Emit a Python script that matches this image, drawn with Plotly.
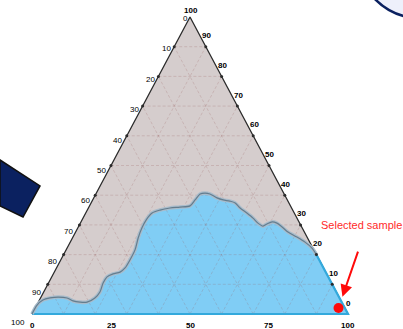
import plotly.graph_objects as go

W, H = 403, 329

# Ternary compositions in percent: a = top corner, b = bottom-left corner,
# c = bottom-right corner (b = 100 - a - c).
# Phase boundary separating the lower (blue) field from the upper (grey) one.
boundary_a = [0.0, 3.0, 4.7, 5.4, 5.7, 5.4, 4.4, 4.0, 4.0, 5.4, 7.4, 10.4, 12.5,
              13.5, 14.1, 15.5, 18.2, 21.6, 25.6, 29.0, 31.7, 34.0, 35.0, 35.7,
              36.0, 36.4, 38.4, 40.4, 40.7, 40.4, 39.1, 38.4, 38.0, 37.4, 35.7,
              34.0, 32.3, 30.6, 29.6, 30.3, 31.0, 30.6, 29.3, 27.6, 25.9, 24.2,
              22.2, 19.8]
boundary_c = [0.0, 0.1, 1.1, 3.0, 5.4, 8.4, 10.8, 13.2, 15.4, 17.2, 17.8, 17.3,
              17.5, 18.9, 20.8, 21.7, 21.9, 21.8, 20.8, 20.3, 20.3, 21.0, 23.0,
              25.8, 28.8, 31.8, 32.4, 33.0, 34.4, 36.1, 39.0, 41.3, 43.6, 45.6,
              48.0, 51.0, 53.8, 56.2, 58.3, 59.2, 60.5, 62.2, 64.5, 67.2, 70.9,
              74.3, 77.5, 80.2]

# Selected sample composition
sample_a = [2.0]
sample_c = [96.0]

# Axis tick values
left_ticks = [0, 10, 20, 30, 40, 50, 60, 70, 80, 90, 100]    # b, along left edge
right_ticks = [0, 10, 20, 30, 40, 50, 60, 70, 80, 90, 100]   # a, along right edge
bottom_ticks = [0, 25, 50, 75, 100]                           # c, along base
grid_levels = [10, 20, 30, 40, 50, 60, 70, 80, 90]


def proj(a, c):
    """Ternary (a, c) in percent -> plane coordinates of the triangle."""
    return c + a / 2.0, a


def proj_list(a_vals, c_vals):
    xs, ys = [], []
    for a, c in zip(a_vals, c_vals):
        x, y = proj(a, c)
        xs.append(x)
        ys.append(y)
    return xs, ys


def paper(px, py):
    return px / W, 1 - py / H


GREY_FILL = "#d5cdcd"
BLUE_FILL = "#80cdf5"
GRID = "rgba(150,90,90,0.22)"

fig = go.Figure()

# Whole triangle (upper field)
tx, ty = proj_list([0, 100, 0, 0], [0, 0, 100, 0])
fig.add_trace(go.Scatter(x=tx, y=ty, mode="lines", fill="toself",
                         fillcolor=GREY_FILL, line=dict(width=0)))

# Left and right triangle edges
ex, ey = proj_list([0, 100, 0], [0, 0, 100])
fig.add_trace(go.Scatter(x=ex, y=ey, mode="lines",
                         line=dict(color="#2b2b2b", width=1.3)))

# Lower field: boundary curve closed along the right edge and the base
fa = boundary_a + [0.0]
fc = boundary_c + [100.0]
fx, fy = proj_list(fa, fc)
fig.add_trace(go.Scatter(x=fx, y=fy, mode="lines", fill="toself",
                         fillcolor=BLUE_FILL, line=dict(width=0)))

# Dashed grid lines, 10 % spacing, three directions
gx, gy = [], []
for v in grid_levels:
    for (a0, c0), (a1, c1) in [((v, 0), (v, 100 - v)),          # a = const
                               ((0, v), (100 - v, v)),          # c = const
                               ((0, 100 - v), (100 - v, 0))]:   # b = const
        x0, y0 = proj(a0, c0)
        x1, y1 = proj(a1, c1)
        gx += [x0, x1, None]
        gy += [y0, y1, None]
fig.add_trace(go.Scatter(x=gx, y=gy, mode="lines",
                         line=dict(color=GRID, width=1, dash="3px,2px")))

# Outline of the lower field along the right edge and base
ox, oy = proj_list([boundary_a[-1], 0, 0], [boundary_c[-1], 100, 0])
fig.add_trace(go.Scatter(x=ox, y=oy, mode="lines",
                         line=dict(color="#33a9dc", width=2.2)))

# Phase boundary line (soft shadow + darker core)
bx, by = proj_list(boundary_a, boundary_c)
fig.add_trace(go.Scatter(x=bx, y=by, mode="lines",
                         line=dict(color="#a9bccb", width=3.6, shape="spline",
                                   smoothing=0.8)))
fig.add_trace(go.Scatter(x=bx, y=by, mode="lines",
                         line=dict(color="#647d8e", width=1.2, shape="spline",
                                   smoothing=0.8)))

# Tick dots on the slanted edges
kx, ky = [], []
for v in grid_levels:
    x, y = proj(100 - v, 0)
    kx.append(x)
    ky.append(y)
    x, y = proj(v, 100 - v)
    kx.append(x)
    ky.append(y)
fig.add_trace(go.Scatter(x=kx, y=ky, mode="markers",
                         marker=dict(color="#2b2b2b", size=3)))

# Selected sample
sx, sy = proj_list(sample_a, sample_c)
fig.add_trace(go.Scatter(x=sx, y=sy, mode="markers",
                         marker=dict(color="#ff0a0a", size=10)))

annotations = []
tick_font = dict(family="Liberation Sans, Arial, sans-serif", size=8,
                 color="#000000")

for v in left_ticks:
    x, y = proj(100 - v, 0)
    annotations.append(dict(x=x, y=y, xref="x", yref="y", text=str(v),
                            showarrow=False, xanchor="right", yanchor="middle",
                            xshift=-(0.5 + 0.05 * v), yshift=-(1.5 + 0.07 * v),
                            font=tick_font))
for v in right_ticks:
    x, y = proj(v, 100 - v)
    annotations.append(dict(x=x, y=y, xref="x", yref="y", text=f"<b>{v}</b>",
                            showarrow=False, xanchor="center", yanchor="middle",
                            xshift=1, yshift=6 if v == 100 else 11,
                            font=tick_font))
for v in bottom_ticks:
    x, y = proj(0, v)
    annotations.append(dict(x=x, y=y, xref="x", yref="y", text=f"<b>{v}</b>",
                            showarrow=False, xanchor="center", yanchor="middle",
                            yshift=-11, font=tick_font))

# Callout for the selected sample
lx, ly = paper(320, 225)
annotations.append(dict(x=lx, y=ly, xref="paper", yref="paper",
                        text="Selected sample", showarrow=False,
                        xanchor="left", yanchor="middle", borderpad=0,
                        font=dict(family="Liberation Sans, Arial, sans-serif",
                                  size=11, color="#ff2a2a")))
annotations.append(dict(x=sx[0], y=sy[0], xref="x", yref="y", text="",
                        showarrow=True, ax=20, ay=-58, standoff=12,
                        arrowhead=2, arrowsize=1.2, arrowwidth=2,
                        arrowcolor="#ff0a0a"))

# Decorative elements of the surrounding figure
band = [paper(0, 160), paper(40, 186), paper(23, 217), paper(0, 206)]
band_path = "M " + " L ".join(f"{x:.4f},{y:.4f}" for x, y in band) + " Z"
c0 = paper(357, 18)
c1 = paper(483, -108)
shapes = [
    dict(type="path", xref="paper", yref="paper", path=band_path,
         fillcolor="#0b2160", line=dict(color="#111111", width=1.5)),
    dict(type="circle", xref="paper", yref="paper",
         x0=c0[0], y0=c0[1], x1=c1[0], y1=c1[1],
         fillcolor="#eef0fb", line=dict(color="#0b2160", width=2.5)),
]

fig.update_layout(
    width=W, height=H,
    margin=dict(l=0, r=0, t=0, b=0, pad=0),
    paper_bgcolor="white", plot_bgcolor="white",
    showlegend=False, hovermode=False,
    xaxis=dict(range=[-10.13, 117.41], visible=False, fixedrange=True),
    yaxis=dict(range=[-5.05, 105.72], visible=False, fixedrange=True),
    annotations=annotations,
    shapes=shapes,
)

fig.write_html("out.html")
